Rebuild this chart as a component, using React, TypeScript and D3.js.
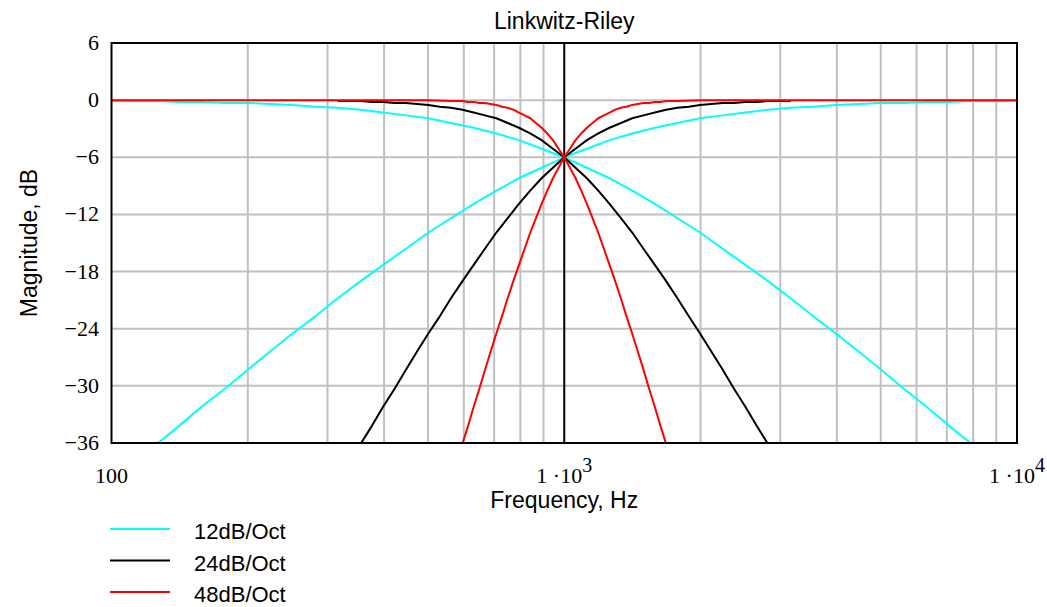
import * as d3 from "d3";

const width = 1047;
const height = 607;
const plotLeft = 111.5;
const plotRight = 1017;
const plotTop = 43;
const plotBottom = 443;

// y ticks (dB) and x grid / label values
const yTicks = [6, 0, -6, -12, -18, -24, -30, -36];
const xGrid = [200, 300, 400, 500, 600, 700, 800, 900, 2000, 3000, 4000, 5000, 6000, 7000, 8000, 9000];
const xTickValues = [100, 1000, 10000];
const xTickBases = ["100", "1 \u00b710", "1 \u00b710"];
const xTickExps = ["", "3", "4"];

// 12dB/Oct (2nd order LR)
const freq12 = [100, 112, 126, 141, 158, 178, 200, 224, 251, 282, 316, 355, 398, 447, 501, 562, 631, 708, 794, 891,
  1000, 1122, 1259, 1413, 1585, 1778, 1995, 2239, 2512, 2818, 3162, 3548, 3981, 4467, 5012, 5623, 6310, 7079, 7943, 8913, 10000];
const lp12 = [-0.1, -0.1, -0.1, -0.2, -0.2, -0.3, -0.3, -0.4, -0.5, -0.7, -0.8, -1.0, -1.3, -1.6, -1.9, -2.4, -2.9, -3.5, -4.2, -5.1,
  -6.0, -7.1, -8.2, -9.5, -10.9, -12.4, -13.9, -15.6, -17.3, -19.0, -20.8, -22.7, -24.5, -26.4, -28.3, -30.3, -32.2, -34.2, -36.1, -38.1, -40.1];
const hp12 = [-40.1, -38.1, -36.1, -34.2, -32.2, -30.3, -28.3, -26.4, -24.5, -22.7, -20.8, -19.0, -17.3, -15.6, -13.9, -12.4, -10.9, -9.5, -8.2, -7.1,
  -6.0, -5.1, -4.2, -3.5, -2.9, -2.4, -1.9, -1.6, -1.3, -1.0, -0.8, -0.7, -0.5, -0.4, -0.3, -0.3, -0.2, -0.2, -0.1, -0.1, -0.1];

// 24dB/Oct (4th order LR)
const freq24 = [316, 335, 355, 376, 398, 422, 447, 473, 501, 531, 562, 596, 631, 668, 708, 750, 794, 841, 891, 944,
  1000, 1059, 1122, 1189, 1259, 1334, 1413, 1496, 1585, 1679, 1778, 1884, 1995, 2113, 2239, 2371, 2512, 2661, 2818, 2985, 3162];
const lp24 = [-0.1, -0.1, -0.1, -0.2, -0.2, -0.3, -0.3, -0.4, -0.5, -0.7, -0.8, -1.0, -1.3, -1.6, -1.9, -2.4, -2.9, -3.5, -4.2, -5.1,
  -6.0, -7.1, -8.2, -9.5, -10.9, -12.4, -13.9, -15.6, -17.3, -19.0, -20.8, -22.7, -24.5, -26.4, -28.3, -30.3, -32.2, -34.2, -36.1, -38.1, -40.1];
const hp24 = [-40.1, -38.1, -36.1, -34.2, -32.2, -30.3, -28.3, -26.4, -24.5, -22.7, -20.8, -19.0, -17.3, -15.6, -13.9, -12.4, -10.9, -9.5, -8.2, -7.1,
  -6.0, -5.1, -4.2, -3.5, -2.9, -2.4, -1.9, -1.6, -1.3, -1.0, -0.8, -0.7, -0.5, -0.4, -0.3, -0.3, -0.2, -0.2, -0.1, -0.1, -0.1];

// 48dB/Oct (8th order LR)
const freq48 = [100, 316, 501, 562.3, 578.8, 595.7, 613.1, 631.0, 649.4, 668.3, 687.9, 708.0, 728.6, 749.9, 771.8, 794.3, 817.5, 841.4,
  866.0, 891.3, 917.2, 944.1, 971.6, 1000, 1029.3, 1059.3, 1090.3, 1122.0, 1154.8, 1188.5, 1223.3, 1258.9, 1295.7, 1333.5, 1372.4,
  1412.5, 1453.8, 1496.2, 1539.9, 1584.9, 1631.2, 1678.8, 1727.8, 1778.3, 1995, 3162, 10000];
const lp48 = [0, 0, 0, -0.1, -0.1, -0.1, -0.2, -0.2, -0.3, -0.3, -0.4, -0.5, -0.7, -0.8, -1.0, -1.3, -1.6, -1.9, -2.4, -2.9, -3.5, -4.2, -5.1,
  -6.0, -7.1, -8.2, -9.5, -10.9, -12.4, -13.9, -15.6, -17.3, -19.0, -20.8, -22.7, -24.5, -26.4, -28.3, -30.3, -32.2, -34.2, -36.1, -38.1, -40.1,
  -48.0, -80.0, -160.0];
const hp48 = [-160.0, -80.0, -48.0, -40.1, -38.1, -36.1, -34.2, -32.2, -30.3, -28.3, -26.4, -24.5, -22.7, -20.8, -19.0, -17.3, -15.6, -13.9,
  -12.4, -10.9, -9.5, -8.2, -7.1, -6.0, -5.1, -4.2, -3.5, -2.9, -2.4, -1.9, -1.6, -1.3, -1.0, -0.8, -0.7, -0.5, -0.4, -0.3, -0.3, -0.2, -0.2,
  -0.1, -0.1, -0.1, 0, 0, 0];

const seriesNames = ["12dB/Oct", "24dB/Oct", "48dB/Oct"];
const seriesColors = ["#00ffff", "#000000", "#ff0000"];

const sansFont = "'Liberation Sans', Arial, sans-serif";
const serifFont = "'Liberation Serif', 'Times New Roman', serif";

const App = () => {
  const xScale = d3.scaleLog().domain([100, 10000]).range([plotLeft, plotRight]);
  const yScale = d3.scaleLinear().domain([-36, 6]).range([plotBottom, plotTop]);

  const line = d3
    .line<[number, number]>()
    .x((d) => xScale(d[0]))
    .y((d) => yScale(d[1]));

  const curves = [
    { color: seriesColors[0], freqs: freq12, lp: lp12, hp: hp12 },
    { color: seriesColors[1], freqs: freq24, lp: lp24, hp: hp24 },
    { color: seriesColors[2], freqs: freq48, lp: lp48, hp: hp48 },
  ];

  const fmt = (d: number) => (d < 0 ? "\u2212" + Math.abs(d) : String(d));

  return (
    <svg
      width={width}
      height={height}
      viewBox={`0 0 ${width} ${height}`}
      style={{ position: "absolute", left: 0, top: 0, background: "#fff" }}
    >
      <defs>
        <clipPath id="plot-clip">
          <rect x={plotLeft} y={plotTop} width={plotRight - plotLeft} height={plotBottom - plotTop} />
        </clipPath>
      </defs>

      {/* grid */}
      <g className="grid" stroke="#c0c0c0" strokeWidth={2}>
        {xGrid.map((f) => (
          <line key={f} x1={xScale(f)} x2={xScale(f)} y1={plotTop} y2={plotBottom} />
        ))}
        {yTicks.slice(1, -1).map((v) => (
          <line key={v} x1={plotLeft} x2={plotRight} y1={yScale(v)} y2={yScale(v)} />
        ))}
      </g>
      {/* crossover marker at 1 kHz */}
      <line x1={xScale(1000)} x2={xScale(1000)} y1={plotTop} y2={plotBottom} stroke="#000" strokeWidth={2} />

      {/* curves */}
      <g clipPath="url(#plot-clip)" fill="none" strokeWidth={2} strokeLinejoin="round">
        {curves.map((c, i) => (
          <g key={i} stroke={c.color}>
            <path d={line(c.freqs.map((f, j) => [f, c.lp[j]] as [number, number])) || ""} />
            <path d={line(c.freqs.map((f, j) => [f, c.hp[j]] as [number, number])) || ""} />
          </g>
        ))}
      </g>

      {/* frame */}
      <rect
        x={plotLeft}
        y={plotTop}
        width={plotRight - plotLeft}
        height={plotBottom - plotTop}
        fill="none"
        stroke="#000"
        strokeWidth={2}
      />

      {/* y tick labels */}
      <g fontFamily={serifFont} fontSize={22} textAnchor="end" fill="#000">
        {yTicks.map((v) => (
          <text key={v} x={99} y={yScale(v) + 7}>
            {fmt(v)}
          </text>
        ))}
      </g>

      {/* x tick labels */}
      <g fontFamily={serifFont} fontSize={22} textAnchor="middle" fill="#000">
        {xTickValues.map((f, i) => (
          <text key={f} x={xScale(f)} y={483}>
            <tspan>{xTickBases[i]}</tspan>
            {xTickExps[i] && (
              <tspan dy={-11} fontSize={20}>
                {xTickExps[i]}
              </tspan>
            )}
          </text>
        ))}
      </g>

      {/* title and axis labels */}
      <text x={(plotLeft + plotRight) / 2} y={29} textAnchor="middle" fontFamily={sansFont} fontSize={23}>
        Linkwitz-Riley
      </text>
      <text x={(plotLeft + plotRight) / 2} y={508} textAnchor="middle" fontFamily={sansFont} fontSize={23}>
        Frequency, Hz
      </text>
      <text
        transform={`translate(37,${(plotTop + plotBottom) / 2}) rotate(-90)`}
        textAnchor="middle"
        fontFamily={sansFont}
        fontSize={23}
      >
        Magnitude, dB
      </text>

      {/* legend */}
      <g className="legend">
        {seriesNames.map((name, i) => (
          <g key={name} transform={`translate(0,${529 + i * 31.5})`}>
            <line x1={110} x2={170} y1={0} y2={0} stroke={seriesColors[i]} strokeWidth={2} />
            <text x={194} y={10} fontFamily={sansFont} fontSize={22}>
              {name}
            </text>
          </g>
        ))}
      </g>
    </svg>
  );
};

export default App;
